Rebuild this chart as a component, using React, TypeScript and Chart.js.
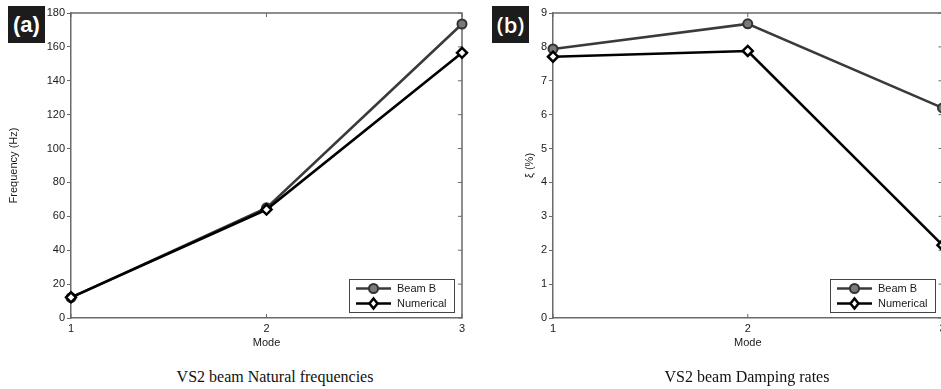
import React, { useEffect, useRef } from "react";
import { Chart, registerables } from "chart.js";

Chart.register(...registerables);

// ---- data ----
const modes = [1, 2, 3];
const seriesNames = ["Beam B", "Numerical"];
const freqBeamB = [12, 65, 173.5];
const freqNumerical = [12.2, 64, 156.5];
const dampBeamB = [7.94, 8.68, 6.2];
const dampNumerical = [7.71, 7.88, 2.15];
const freqAxis = { min: 0, max: 180, step: 20, title: "Frequency (Hz)" };
const dampAxis = { min: 0, max: 9, step: 1, title: "ξ (%)" };
const xAxisTitle = "Mode";
const captions = ["VS2 beam Natural frequencies", "VS2 beam Damping rates"];
const panelLabels = ["(a)", "(b)"];

const SANS = "'Liberation Sans', Arial, Helvetica, sans-serif";
const AXIS_COLOR = "#6a6a6a";
const TEXT_COLOR = "#1a1a1a";

const framePlugin = {
  id: "frame",
  beforeDatasetsDraw(chart: any) {
    const { ctx, chartArea: ca, scales } = chart;
    ctx.save();
    ctx.strokeStyle = AXIS_COLOR;
    ctx.lineWidth = 1.5;
    ctx.beginPath();
    ctx.moveTo(ca.left, ca.top);
    ctx.lineTo(ca.right, ca.top);
    ctx.lineTo(ca.right, ca.bottom);
    ctx.stroke();
    ctx.lineWidth = 1;
    // inner ticks on x (top & bottom)
    scales.x.ticks.forEach((t: any) => {
      const px = scales.x.getPixelForValue(t.value);
      ctx.beginPath();
      ctx.moveTo(px, ca.top);
      ctx.lineTo(px, ca.top + 4);
      ctx.moveTo(px, ca.bottom);
      ctx.lineTo(px, ca.bottom - 4);
      ctx.stroke();
    });
    // inner ticks on right
    scales.y.ticks.forEach((t: any) => {
      const py = scales.y.getPixelForValue(t.value);
      ctx.beginPath();
      ctx.moveTo(ca.right, py);
      ctx.lineTo(ca.right - 4, py);
      ctx.stroke();
    });
    ctx.restore();
  },
};

function drawMarker(ctx: CanvasRenderingContext2D, style: string, x: number, y: number, r: number, fill: string, stroke: string, lw: number) {
  ctx.beginPath();
  if (style === "circle") {
    ctx.arc(x, y, r, 0, Math.PI * 2);
  } else {
    ctx.moveTo(x, y - r);
    ctx.lineTo(x + r * 0.8, y);
    ctx.lineTo(x, y + r);
    ctx.lineTo(x - r * 0.8, y);
    ctx.closePath();
  }
  ctx.fillStyle = fill;
  ctx.fill();
  ctx.strokeStyle = stroke;
  ctx.lineWidth = lw;
  ctx.stroke();
}

const legendPlugin = {
  id: "boxLegend",
  afterDraw(chart: any) {
    const { ctx, chartArea: ca } = chart;
    const w = 105;
    const h = 33;
    const x = Math.round(ca.right - 8 - w);
    const y = Math.round(ca.bottom - 6 - h);
    ctx.save();
    ctx.fillStyle = "#fff";
    ctx.fillRect(x, y, w, h);
    ctx.strokeStyle = "#444";
    ctx.lineWidth = 1;
    ctx.strokeRect(x + 0.5, y + 0.5, w, h);
    chart.data.datasets.forEach((ds: any, i: number) => {
      const ly = y + 9.5 + i * 15;
      ctx.strokeStyle = ds.borderColor;
      ctx.lineWidth = ds.borderWidth;
      ctx.beginPath();
      ctx.moveTo(x + 7, ly);
      ctx.lineTo(x + 42, ly);
      ctx.stroke();
      drawMarker(ctx, ds.pointStyle, x + 24.5, ly, ds.pointRadius, ds.pointBackgroundColor, ds.pointBorderColor, ds.pointBorderWidth);
      ctx.fillStyle = TEXT_COLOR;
      ctx.font = `11px ${SANS}`;
      ctx.textBaseline = "middle";
      ctx.textAlign = "left";
      ctx.fillText(ds.label, x + 48, ly + 0.5);
    });
    ctx.restore();
  },
};

function makeDatasets(a: number[], b: number[]) {
  return [
    {
      label: seriesNames[0],
      data: modes.map((m, i) => ({ x: m, y: a[i] })),
      borderColor: "#3a3a3a",
      borderWidth: 2.6,
      pointStyle: "circle",
      pointRadius: 4.5,
      pointBorderWidth: 2,
      pointBackgroundColor: "#7a7a7a",
      pointBorderColor: "#333",
      order: 1,
      clip: false as any,
    },
    {
      label: seriesNames[1],
      data: modes.map((m, i) => ({ x: m, y: b[i] })),
      borderColor: "#000",
      borderWidth: 2.6,
      pointStyle: "rectRot",
      pointRadius: 5,
      pointBorderWidth: 2.5,
      pointBackgroundColor: "#fff",
      pointBorderColor: "#000",
      order: 0,
      clip: false as any,
    },
  ];
}

function makeConfig(a: number[], b: number[], axis: any, yWidth: number, titlePadTop: number, padRight: number): any {
  return {
    type: "line",
    data: { datasets: makeDatasets(a, b) },
    options: {
      animation: false,
      responsive: false,
      devicePixelRatio: 1,
      layout: { padding: { left: 0, top: 13, right: padRight, bottom: 0 } },
      plugins: { legend: { display: false }, tooltip: { enabled: false } },
      elements: { line: { tension: 0 } },
      scales: {
        x: {
          type: "linear",
          min: modes[0],
          max: modes[modes.length - 1],
          border: { display: true, color: AXIS_COLOR, width: 1.5 },
          grid: { display: false, drawTicks: false },
          ticks: { stepSize: 1, color: TEXT_COLOR, padding: 4, font: { family: SANS, size: 11 } },
          title: {
            display: true,
            text: xAxisTitle,
            color: TEXT_COLOR,
            font: { family: SANS, size: 11 },
            padding: { top: 0, bottom: 10 },
          },
          afterFit: (s: any) => {
            s.height = 42;
          },
        },
        y: {
          min: axis.min,
          max: axis.max,
          border: { display: true, color: AXIS_COLOR, width: 1.5 },
          grid: { display: true, drawOnChartArea: false, drawTicks: true, tickLength: 4, color: AXIS_COLOR },
          ticks: { stepSize: axis.step, color: TEXT_COLOR, padding: 2, font: { family: SANS, size: 11 } },
          title: {
            display: true,
            text: axis.title,
            color: TEXT_COLOR,
            font: { family: SANS, size: 11 },
            padding: { top: titlePadTop, bottom: 0 },
          },
          afterFit: (s: any) => {
            s.width = yWidth;
          },
        },
      },
    },
    plugins: [framePlugin, legendPlugin],
  };
}

const boxStyle = (left: number): React.CSSProperties => ({
  position: "absolute",
  left,
  top: 6,
  width: 37,
  height: 37,
  background: "#1c1c1c",
  color: "#fff",
  fontFamily: SANS,
  fontWeight: 700,
  fontSize: 22,
  lineHeight: "37px",
  textAlign: "center",
});

const captionStyle = (center: number): React.CSSProperties => ({
  position: "absolute",
  left: center - 200,
  width: 400,
  top: 368,
  textAlign: "center",
  fontFamily: "'Liberation Serif', 'Times New Roman', serif",
  fontSize: 16,
  lineHeight: "18px",
  color: "#111",
});

export default function App() {
  const leftRef = useRef<HTMLCanvasElement>(null);
  const rightRef = useRef<HTMLCanvasElement>(null);

  useEffect(() => {
    const c1 = new Chart(leftRef.current!, makeConfig(freqBeamB, freqNumerical, freqAxis, 71, 7.5, 18));
    const c2 = new Chart(rightRef.current!, makeConfig(dampBeamB, dampNumerical, dampAxis, 83, 53, 7));
    return () => {
      c1.destroy();
      c2.destroy();
    };
  }, []);

  return (
    <div
      style={{
        position: "fixed",
        left: 0,
        top: 0,
        width: 941,
        height: 389,
        overflow: "hidden",
        background: "#fff",
      }}
    >
      <canvas ref={leftRef} width={480} height={360} style={{ position: "absolute", left: 0, top: 0 }} />
      <canvas ref={rightRef} width={480} height={360} style={{ position: "absolute", left: 470, top: 0 }} />
      <div style={boxStyle(8)}>{panelLabels[0]}</div>
      <div style={{ ...boxStyle(492), fontFamily: "'Open Sans', sans-serif", fontWeight: 600 }}>{panelLabels[1]}</div>
      <div style={captionStyle(275)}>{captions[0]}</div>
      <div style={captionStyle(747)}>{captions[1]}</div>
    </div>
  );
}
